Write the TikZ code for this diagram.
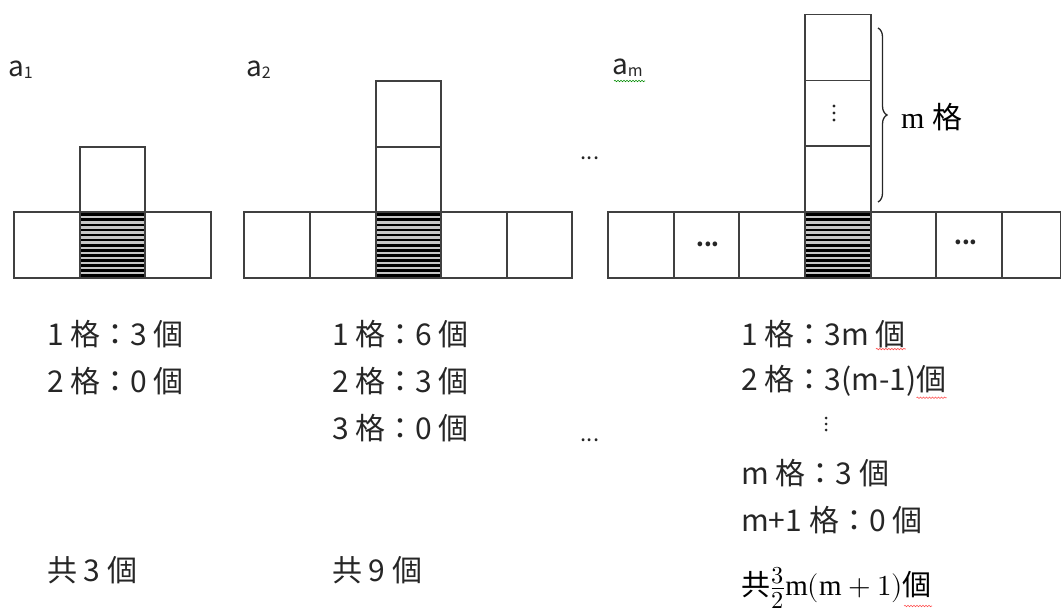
\documentclass[tikz,border=0pt]{standalone}
\usepackage{fontspec}
\usepackage{graphicx}
\usepackage{unicode-math}
\setmainfont{Liberation Serif}
\setmathfont{Latin Modern Math}
\newfontfamily\cjk{Noto Sans CJK TC}
\usetikzlibrary{decorations.pathreplacing,decorations.pathmorphing}
\tikzset{
  cell/.style={draw=black!75, line width=1.2pt},
  txt/.style={font=\cjk\fontsize{30}{34}\selectfont, anchor=west, inner sep=0pt, text=black!85},
  lbl/.style={font=\cjk\fontsize{28}{32}\selectfont, anchor=west, inner sep=0pt, text=black!85},
  dotstxt/.style={font=\cjk\bfseries\fontsize{22}{24}\selectfont, inner sep=0pt, text=black!85},
  gaptxt/.style={font=\cjk\fontsize{22}{24}\selectfont, inner sep=0pt, text=black!85},
  vdot/.style={fill=black!85},
  redsq/.style={decorate, decoration={snake, amplitude=0.7pt, segment length=3pt}, draw=red!70, line width=0.6pt},
  greensq/.style={decorate, decoration={snake, amplitude=0.7pt, segment length=3pt}, draw=green!55!black, line width=0.6pt},
  brc/.style={decorate, decoration={brace, amplitude=9pt}, draw=black!85, line width=1.3pt}
}
\newcommand{\hatchcell}[4]{% x1 y1 x2 y2
  \fill[gray!45] (#1,#2) rectangle (#3,#4);
  \foreach \k in {0,...,12}{\draw[black, line width=2.8pt] (#1,#2+2.8+\k*5.05) -- (#3,#2+2.8+\k*5.05);}
}
\newcommand{\sbs}[1]{{\fontsize{16}{16}\selectfont\raisebox{-2pt}{#1}}}
\begin{document}
\begin{tikzpicture}[x=1pt,y=-1pt]
\useasboundingbox (0,0) rectangle (1061,615);
% ---------- panel 1 ----------
\hatchcell{80}{212}{145}{278}
\foreach \a/\b in {14/80,80/145,145/211}{\draw[cell] (\a,212) rectangle (\b,278);}
\draw[cell] (80,147) rectangle (145,212);
\node[lbl] (a1) at (8,70) {a\sbs{1}};
% ---------- panel 2 ----------
\hatchcell{376}{212}{441}{278}
\foreach \a/\b in {244/310,310/376,376/441,441/507,507/572}{\draw[cell] (\a,212) rectangle (\b,278);}
\draw[cell] (376,81) rectangle (441,147);
\draw[cell] (376,147) rectangle (441,212);
\node[lbl] (a2) at (246,70) {a\sbs{2}};
% ---------- panel m ----------
\hatchcell{805}{212}{871}{278}
\foreach \a/\b in {608/674,674/739,739/805,805/871,871/936,936/1002,1002/1060.4}{\draw[cell] (\a,212) rectangle (\b,278);}
\draw[cell] (805,14.7) rectangle (871,80.3);
\draw[cell] (805,80.3) rectangle (871,146);
\draw[cell] (805,146) rectangle (871,212);
\node[lbl] (am) at (612,68) {a\sbs{m}};
\draw[greensq] (614,81) -- (645,81);
\foreach \d in {-7,0,7}{\fill[vdot] (834,113+\d) circle (1.7pt);}
\node[dotstxt] (hd1) at (708,244) {...};
\node[dotstxt] (hd2) at (966,242) {...};
\draw[brc] (878,28) -- (878,202);
\node[anchor=west, inner sep=0pt, font=\fontsize{30}{34}\selectfont] (mg) at (901,117) {m {\cjk 格}};
\node[gaptxt] (gap1) at (590,158) {...};
% ---------- text panel 1 ----------
\node[txt] (t11) at (47,334) {1 格：3 個};
\node[txt] (t12) at (47,381) {2 格：0 個};
\node[txt] (t13) at (47,570) {共 3 個};
% ---------- text panel 2 ----------
\node[txt] (t21) at (332,334) {1 格：6 個};
\node[txt] (t22) at (332,381) {2 格：3 個};
\node[txt] (t23) at (332,428) {3 格：0 個};
\node[txt] (t24) at (332,570) {共 9 個};
\node[gaptxt] (gap2) at (590,440) {...};
% ---------- text panel m ----------
\node[txt] (t31) at (741,334) {1 格：3m 個};
\node[txt] (t32) at (741,381) {2 格：3(m-1)個};
\foreach \d in {-6,0,6}{\fill[vdot] (826,424+\d) circle (1.5pt);}
\node[txt] (t33) at (741,473) {m 格：3 個};
\node[txt] (t34) at (741,520) {m+1 格：0 個};
\node[anchor=west, inner sep=0pt, font=\fontsize{29}{34}\selectfont] (t35) at (741,588) {{\cjk 共}\raisebox{-1pt}{\scalebox{1.2}{$\frac{3}{2}$}}$\mathrm{m}(\mathrm{m}+1)${\cjk 個}};
\draw[redsq] ([xshift=-30pt,yshift=-1pt]t31.south east) -- ([yshift=-1pt]t31.south east);
\draw[redsq] ([xshift=-30pt,yshift=-1pt]t32.south east) -- ([yshift=-1pt]t32.south east);
\draw[redsq] ([xshift=-28pt]t35.south east |- 0,606) -- (t35.south east |- 0,606);
\end{tikzpicture}
\end{document}
